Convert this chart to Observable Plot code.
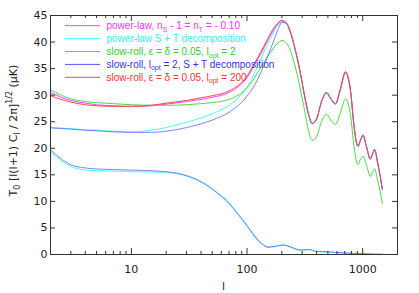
<!DOCTYPE html>
<html><head><meta charset="utf-8">
<script src="https://cdn.jsdelivr.net/npm/d3@7"></script>
<script src="https://cdn.jsdelivr.net/npm/@observablehq/plot@0.6"></script>
<style>
body{margin:0;background:#fff}
#chart svg{display:block}
</style>
</head><body><div id="chart"></div>
<script>
// multipole grid for total spectra and scalar parts
const ellTotal = [2,3,4,5,7,10,15,20,30,40,50,70,100,117,130,150,170,185,200,220,235,260,287,316,340,366,400,440,486,530,582,640,710,750,790,830,870,910,955,1006,1080,1164,1215,1268,1350,1420,1479];
const powerLawTotal = [30.5,29.0,28.5,28.2,28.0,27.9,28.0,28.3,28.8,29.2,29.6,30.5,33.3,35.8,37.6,40.2,42.3,43.4,43.9,43.4,42.0,38.6,34.4,29.5,26.3,24.6,25.4,28.6,30.3,29.2,28.3,30.9,34.2,33.1,30.2,25.3,21.7,20.3,21.4,22.3,20.2,17.9,18.8,19.6,17.0,14.6,12.2];
const slowRollLopt2 = [31.0,29.3,28.8,28.6,28.4,28.2,28.1,28.1,28.2,28.4,28.6,29.2,31.4,33.4,35.1,37.2,38.9,39.8,40.3,39.8,38.6,35.5,31.5,26.9,23.3,21.5,22.2,25.0,26.4,25.3,24.5,26.6,29.3,28.4,25.8,21.4,18.2,16.9,17.9,18.5,16.8,14.7,15.5,16.1,13.9,11.8,9.7];
const slowRollLopt200 = [29.9,28.7,28.2,28.0,27.9,27.9,28.1,28.5,29.0,29.5,29.9,30.8,33.6,36.1,37.9,40.5,42.6,43.6,44.1,43.6,42.2,38.8,34.6,29.7,26.5,24.7,25.6,28.8,30.5,29.4,28.4,31.1,34.4,33.3,30.4,25.5,21.9,20.4,21.5,22.5,20.3,18.0,18.9,19.8,17.2,14.7,12.3];
const powerLawScalar = [23.9,23.7,23.5,23.4,23.2,23.1,23.4,23.9,24.9,25.7,26.5,28.1,31.5,34.3,36.6,39.6,41.9,43.2,43.8,43.4,42.0,38.6,34.4,29.5,26.3,24.6,25.4,28.6,30.3,29.2,28.3,30.9,34.2,33.1,30.2,25.3,21.7,20.3,21.4,22.3,20.2,17.9,18.8,19.6,17.0,14.6,12.2];
const slowRollScalar = [23.85,23.6,23.4,23.3,23.1,23.0,23.0,23.2,23.9,24.6,25.3,26.8,29.8,32.0,34.0,37.2,40.2,42.3,43.7,43.5,42.2,38.8,34.6,29.7,26.5,24.7,25.6,28.8,30.5,29.4,28.4,31.1,34.4,33.3,30.4,25.5,21.9,20.4,21.5,22.5,20.3,18.0,18.9,19.8,17.2,14.7,12.3];
// multipole grid for tensor parts
const ellTensor = [2,3,4,5,7,10,17,25,41,57,70,81,95,106,120,135,152,175,206,240,290,340,400,500,600,800,1000,1479];
const powerLawTensor = [19.3,16.6,15.9,15.8,15.7,15.6,15.5,15.2,13.5,11.3,9.5,7.9,6.0,4.6,3.0,1.9,1.3,1.5,1.75,1.35,0.8,0.9,0.55,0.45,0.35,0.2,0.1,0.03];
const slowRollTensor = [19.7,16.9,16.3,16.1,16.0,15.9,15.7,15.3,13.6,11.4,9.7,8.0,6.1,4.7,3.1,2.0,1.4,1.55,1.8,1.4,0.85,0.95,0.6,0.5,0.4,0.25,0.15,0.05];

const xTicks = [10, 100, 1000];
const xMinorTicks = [3,4,5,6,7,8,9,20,30,40,50,60,70,80,90,200,300,400,500,600,700,800,900];
const yTicks = [0,5,10,15,20,25,30,35,40,45];
const xTitle = "l";

const colMagenta = "#ff44ff", colCyan = "#44ffff", colGreen = "#44dd44", colBlue = "#5555ff", colRed = "#ff4444";

function series(ell, vals){ return ell.map((l,i)=>({l, v: vals[i]})); }

const W = 419, H = 293, mL = 50, mR = 22, mT = 15, mB = 39;
const pw = W - mL - mR, ph = H - mT - mB;

const lineOpts = (c) => ({x: "l", y: "v", stroke: c, strokeWidth: 1, curve: "monotone-x"});

const chart = Plot.plot({
  width: W, height: H,
  marginLeft: mL, marginRight: mR, marginTop: mT, marginBottom: mB,
  style: {fontFamily: "DejaVu Sans", fontSize: "11px", background: "#fff", color: "#222"},
  x: {type: "log", domain: [2, 2000], ticks: xTicks, tickFormat: d => String(d), tickSize: 0, tickPadding: 11, label: null},
  y: {domain: [0, 45], ticks: yTicks, tickSize: 0, tickPadding: 3, label: null},
  marks: [
    Plot.line(series(ellTotal, powerLawTotal), lineOpts(colMagenta)),
    Plot.line(series(ellTotal, powerLawScalar), lineOpts(colCyan)),
    Plot.line(series(ellTensor, powerLawTensor), lineOpts(colCyan)),
    Plot.line(series(ellTotal, slowRollLopt2), lineOpts(colGreen)),
    Plot.line(series(ellTotal, slowRollScalar), {...lineOpts(colBlue), strokeOpacity: 0.75}),
    Plot.line(series(ellTensor, slowRollTensor), {...lineOpts(colBlue), strokeOpacity: 0.75}),
    Plot.line(series(ellTotal, slowRollLopt200), lineOpts(colRed)),
    // inward ticks
    Plot.ruleX(xTicks, {x: d => d, insetTop: ph - 6, stroke: "#333"}),
    Plot.ruleX(xTicks, {x: d => d, insetBottom: ph - 6, stroke: "#333"}),
    Plot.ruleX(xMinorTicks, {x: d => d, insetTop: ph - 3, stroke: "#333"}),
    Plot.ruleX(xMinorTicks, {x: d => d, insetBottom: ph - 3, stroke: "#333"}),
    Plot.ruleY(yTicks, {y: d => d, insetRight: pw - 5, stroke: "#333"}),
    Plot.ruleY(yTicks, {y: d => d, insetLeft: pw - 5, stroke: "#333"}),
    Plot.frame({stroke: "#333"})
  ]
});
document.getElementById("chart").appendChild(chart);

const svg = d3.select(chart);

// x-axis title
svg.append("text").attr("x", mL + pw / 2).attr("y", 290).attr("text-anchor", "middle")
  .attr("fill", "#222").attr("font-family", "DejaVu Sans").attr("font-size", 11).text(xTitle);

// legend (inside plot, top-left)
const legend = [
  {c: colMagenta, t: "#ff33ff", parts: [["power-law, n"],["S","sub"],[" - 1 = n"],["T","sub"],[" = - 0.10"]]},
  {c: colCyan, t: "#33eeee", parts: [["power-law S + T decomposition"]]},
  {c: colGreen, t: "#33cc33", parts: [["slow-roll, ε = δ = 0.05, l"],["opt","sub"],[" = 2"]]},
  {c: colBlue, t: "#3333ff", parts: [["slow-roll, l"],["opt","sub"],[" = 2, S + T decomposition"]]},
  {c: colRed, t: "#ff3333", parts: [["slow-roll, ε = δ = 0.05, l"],["opt","sub"],[" = 200"]]}
];
const lg = svg.append("g").attr("class", "legend");
legend.forEach((e, i) => {
  const y = 25.7 + i * 12.9;
  lg.append("line").attr("x1", 65).attr("x2", 100).attr("y1", y).attr("y2", y)
    .attr("stroke", e.c).attr("stroke-width", 1);
  const tx = lg.append("text").attr("x", 106.5).attr("y", y + 3.5).attr("text-anchor", "start")
    .attr("fill", e.t).attr("font-family", "'Liberation Sans Narrow','Arial Narrow','Liberation Sans',sans-serif")
    .attr("font-size", 10);
  let shifted = 0;
  e.parts.forEach(([s, k]) => {
    const ts = tx.append("tspan").text(s);
    if (k === "sub") { ts.attr("font-size", 7).attr("dy", 2.5 - shifted); shifted = 2.5; }
    else if (shifted) { ts.attr("dy", -shifted); shifted = 0; }
  });
});

// y-axis title with sub/superscripts
const yl = svg.append("text")
  .attr("transform", `translate(17,${mT + ph / 2 - 4}) rotate(-90)`)
  .attr("text-anchor", "middle").attr("fill", "#222")
  .attr("font-family", "DejaVu Sans").attr("font-size", 11);
[["T"],["0","sub"],[" [l(l+1) C"],["l","sub"],[" / 2π]"],["1/2","sup"],[" (μK)"]].reduce((sh, [s, k]) => {
  const ts = yl.append("tspan").text(s);
  let nsh = 0;
  if (k === "sub") { nsh = 3; ts.attr("font-size", 8); }
  else if (k === "sup") { nsh = -5; ts.attr("font-size", 8); }
  const d = nsh - sh;
  if (d) ts.attr("dy", d);
  return nsh;
}, 0);
</script>
</body></html>
